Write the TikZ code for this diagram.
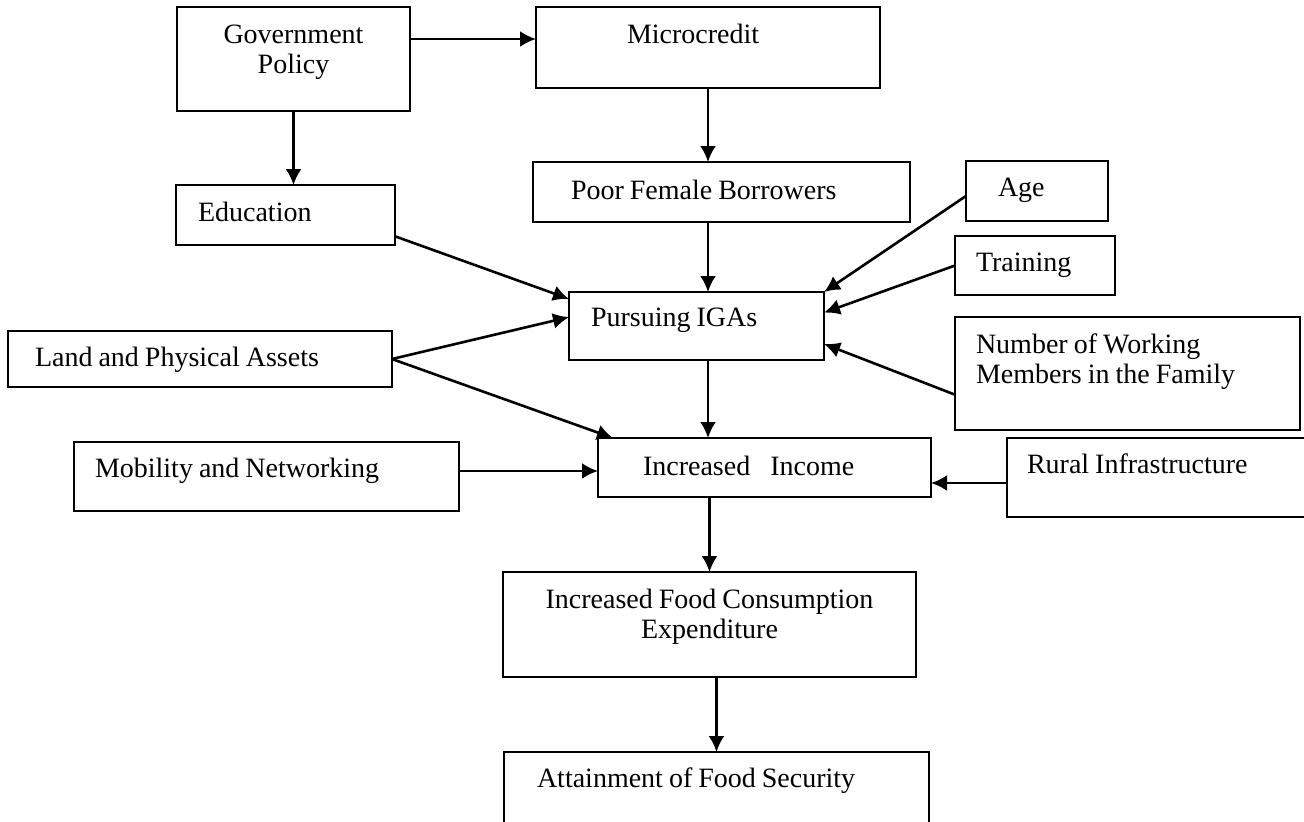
\documentclass[tikz,border=0pt]{standalone}
\usepackage{fontspec}
\setmainfont{Liberation Serif}
\usetikzlibrary{arrows.meta}

\begin{document}
\begin{tikzpicture}[x=0.5pt,y=-0.5pt]
    \tikzstyle{block} = [draw, outer sep=0pt, line width=1pt, inner ysep=0pt, anchor=north west, align=left, font=\fontsize{14}{15}\selectfont, execute at begin node={\spaceskip=3pt\relax}]
    \tikzstyle{line} = [draw, line width=1.3pt, -{Latex[length=8pt,width=8pt]}]

    \useasboundingbox (0,0) rectangle (1304,821);
    \clip (0,0) rectangle (1304,821);

    \node[block, align=center, inner xsep=0pt, text width=116.5pt, text height=18pt, text depth=34pt] (gov) at (177,7) {Government\\Policy};
    \node[block, inner xsep=45.5pt, text width=81pt, text height=18pt, text depth=22.5pt] (micro) at (536,7) {Microcredit};
    \node[block, inner xsep=11pt, text width=87.5pt, text height=18pt, text depth=12pt] (edu) at (176,185) {Education};
    \node[block, inner xsep=19pt, text width=150.5pt, text height=18.5pt, text depth=11.5pt] (poor) at (533,162) {Poor Female Borrowers};
    \node[block, inner xsep=16pt, text width=39pt, text height=17.5pt, text depth=12.5pt] (age) at (966,161) {Age};
    \node[block, inner xsep=10.5pt, text width=59pt, text height=17.5pt, text depth=12pt] (train) at (955,236) {Training};
    \node[block, inner xsep=11pt, text width=105.5pt, text height=17pt, text depth=17pt] (purs) at (569,292) {Pursuing IGAs};
    \node[block, inner xsep=13.5pt, text width=165pt, text height=17.5pt, text depth=10.5pt] (land) at (8,331) {Land and Physical Assets};
    \node[block, inner xsep=10.5pt, text width=151.5pt, text height=18pt, text depth=38.5pt] (num) at (955,317) {Number of Working\\Members in the Family};
    \node[block, inner xsep=22.5pt, text width=121.5pt, text height=18.5pt, text depth=11pt] (inc) at (598,438) {Increased\hspace{10pt}Income};
    \node[block, inner xsep=10.5pt, text width=171.5pt, text height=17.5pt, text depth=17pt] (mob) at (74,442) {Mobility and Networking};
    \node[block, inner xsep=10pt, text width=136.5pt, text height=17.5pt, text depth=22pt] (rural) at (1007,438) {Rural Infrastructure};
    \node[block, align=center, inner xsep=0pt, text width=206.5pt, text height=18pt, text depth=34.5pt] (food) at (503,572) {Increased Food Consumption\\Expenditure};
    \node[block, inner xsep=16.5pt, text width=179.5pt, text height=17.5pt, text depth=26.5pt] (att) at (504,752) {Attainment of Food Security};

    \coordinate (g1) at ([yshift=10pt]gov.east);
    \coordinate (m1) at ([yshift=2.75pt]mob.east);
    \coordinate (r1) at ([yshift=-2.75pt]rural.west);

    \path [line] (g1) -- (g1 -| micro.west);
    \path [line] (gov.south) -- (gov.south |- edu.north);
    \path [line] (micro.south) -- (micro.south |- poor.north);
    \path [line] (micro.south |- poor.south) -- (micro.south |- purs.north);
    \path [line] (micro.south |- purs.south) -- (micro.south |- inc.north);
    \path [line] (food.north |- inc.south) -- (food.north);
    \path [line] (att.north |- food.south) -- (att.north);

    \path [line] (edu.-11) -- (purs.168);
    \path [line] (land.east) -- (purs.176);
    \path [line] (land.east) -- ([xshift=7.5pt]inc.north west);
    \path [line] (m1) -- (m1 -| inc.west);

    \path [line] (age.184) -- (purs.north east);
    \path [line] (train.west) -- (purs.6);
    \path [line] (num.187) -- (purs.-8);
    \path [line] (r1) -- (r1 -| inc.east);
\end{tikzpicture}
\end{document}
